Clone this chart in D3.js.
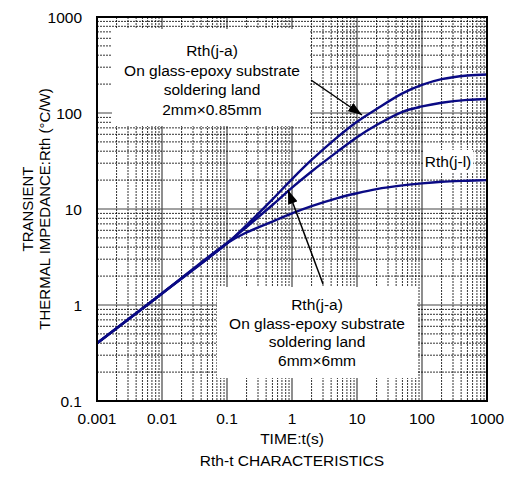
<!DOCTYPE html>
<html>
<head>
<meta charset="utf-8">
<script src="https://cdn.jsdelivr.net/npm/d3@7"></script>
<style>
  body { margin: 0; background: #fff; }
  svg text { font-family: Arial, "Liberation Sans", sans-serif; fill: #000; }
</style>
</head>
<body>
<svg id="chart" width="507" height="477"></svg>
<script>
// time axis (s) and the three Rth curves (°C/W)
var times     = [0.001, 0.01, 0.1, 0.2, 0.5, 1, 2, 5, 10, 20, 50, 100, 200, 500, 1000];
var rthJa2mm  = [0.40, 1.32, 4.4, 6.8, 12.6, 20.5, 32.4, 56, 81, 110, 160, 196, 225, 246, 252];
var rthJa6mm  = [0.40, 1.32, 4.4, 6.5, 11.0, 16.7, 24.6, 39.6, 56, 75, 103, 117, 128, 137, 140];
var rthJl     = [0.40, 1.32, 4.4, 5.7, 7.4, 9.0, 10.7, 13.0, 14.6, 16.1, 17.6, 18.5, 19.2, 19.7, 20];

var xTickLabels = ["0.001", "0.01", "0.1", "1", "10", "100", "1000"];
var yTickLabels = ["0.1", "1", "10", "100", "1000"];

var note2mm = ["Rth(j-a)", "On glass-epoxy substrate", "soldering land", "2mm\u00d70.85mm"];
var note6mm = ["Rth(j-a)", "On glass-epoxy substrate", "soldering land", "6mm\u00d76mm"];

var svg = d3.select("#chart");
// plot box (note: "top" is taken by window.top)
var pLeft = 97, pRight = 487, pTop = 17, pBottom = 401;

var x = d3.scaleLog().domain([0.001, 1000]).range([pLeft, pRight]);
var y = d3.scaleLog().domain([0.1, 1000]).range([pBottom, pTop]);

function isMajor(v) {
    var l = Math.log10(v);
    return Math.abs(l - Math.round(l)) < 1e-9;
}

// grid - minor dotted, decades solid
var grid = svg.append("g");
grid.selectAll(".vx").data(x.ticks()).enter().append("line")
    .attr("x1", function(d){ return x(d); }).attr("x2", function(d){ return x(d); })
    .attr("y1", pTop).attr("y2", pBottom)
    .attr("stroke", function(d){ return isMajor(d) ? "#444" : "#000"; })
    .attr("stroke-width", function(d){ return isMajor(d) ? 1.2 : 0.8; })
    .attr("stroke-dasharray", function(d){ return isMajor(d) ? null : "2,1"; });
grid.selectAll(".hy").data(y.ticks()).enter().append("line")
    .attr("y1", function(d){ return y(d); }).attr("y2", function(d){ return y(d); })
    .attr("x1", pLeft).attr("x2", pRight)
    .attr("stroke", function(d){ return isMajor(d) ? "#444" : "#000"; })
    .attr("stroke-width", function(d){ return isMajor(d) ? 1.2 : 0.8; })
    .attr("stroke-dasharray", function(d){ return isMajor(d) ? null : "2,1"; });

// annotation backgrounds hide the grid
svg.append("rect").attr("x", 112).attr("y", 29).attr("width", 198).attr("height", 97).attr("fill", "#fff");
svg.append("rect").attr("x", 217).attr("y", 287).attr("width", 200).attr("height", 91).attr("fill", "#fff");
svg.append("rect").attr("x", 423).attr("y", 150).attr("width", 50).attr("height", 23).attr("fill", "#fff");

// curves
var line = d3.line()
    .x(function(d){ return x(d[0]); })
    .y(function(d){ return y(d[1]); })
    .curve(d3.curveCatmullRom.alpha(0.5));

[rthJa2mm, rthJa6mm, rthJl].forEach(function(s){
    svg.append("path")
        .datum(times.map(function(t, i){ return [t, s[i]]; }))
        .attr("d", line)
        .attr("fill", "none")
        .attr("stroke", "#0a0a84")
        .attr("stroke-width", 2.4);
});

// frame
svg.append("rect").attr("x", pLeft).attr("y", pTop)
    .attr("width", pRight - pLeft).attr("height", pBottom - pTop)
    .attr("fill", "none").attr("stroke", "#000").attr("stroke-width", 2);

// tick labels
svg.selectAll(".xl").data(xTickLabels).enter().append("text")
    .attr("x", function(d){ return x(+d); }).attr("y", 424)
    .attr("text-anchor", "middle").attr("font-size", 15.5)
    .text(function(d){ return d; });
svg.selectAll(".yl").data(yTickLabels).enter().append("text")
    .attr("x", 82).attr("y", function(d){ return y(+d) + 5.5; })
    .attr("text-anchor", "end").attr("font-size", 15.5)
    .text(function(d){ return d; });

// axis titles
svg.append("text").attr("x", 292).attr("y", 444).attr("text-anchor", "middle")
    .attr("font-size", 15.5).text("TIME:t(s)");
svg.append("text").attr("x", 292).attr("y", 466).attr("text-anchor", "middle")
    .attr("font-size", 15.5).text("Rth-t CHARACTERISTICS");
svg.append("text").attr("transform", "translate(33,209) rotate(-90)")
    .attr("text-anchor", "middle").attr("font-size", 15).text("TRANSIENT");
svg.append("text").attr("transform", "translate(50,209) rotate(-90)")
    .attr("text-anchor", "middle").attr("font-size", 15).text("THERMAL IMPEDANCE:Rth (\u00b0C/W)");

// notes
function note(lines, cx, y0, dy) {
    svg.append("g").selectAll("text").data(lines).enter().append("text")
        .attr("x", cx).attr("y", function(d, i){ return y0 + i * dy; })
        .attr("text-anchor", "middle").attr("font-size", 15.5)
        .text(function(d){ return d; });
}
note(note2mm, 212, 56, 19.5);
note(note6mm, 317, 310, 18.5);
svg.append("text").attr("x", 448).attr("y", 167).attr("text-anchor", "middle")
    .attr("font-size", 15.5).text("Rth(j-l)");

// arrows
svg.append("defs").append("marker")
    .attr("id", "head").attr("viewBox", "0 0 14 10")
    .attr("refX", 14).attr("refY", 5)
    .attr("markerWidth", 14).attr("markerHeight", 10)
    .attr("markerUnits", "userSpaceOnUse")
    .attr("orient", "auto")
    .append("path").attr("d", "M0,0 L14,5 L0,10 Z").attr("fill", "#000");

svg.append("line").attr("x1", 311).attr("y1", 80).attr("x2", 362).attr("y2", 115)
    .attr("stroke", "#000").attr("stroke-width", 1.5).attr("marker-end", "url(#head)");
svg.append("line").attr("x1", 323).attr("y1", 284).attr("x2", 288).attr("y2", 190)
    .attr("stroke", "#000").attr("stroke-width", 1.5).attr("marker-end", "url(#head)");
</script>
</body>
</html>
